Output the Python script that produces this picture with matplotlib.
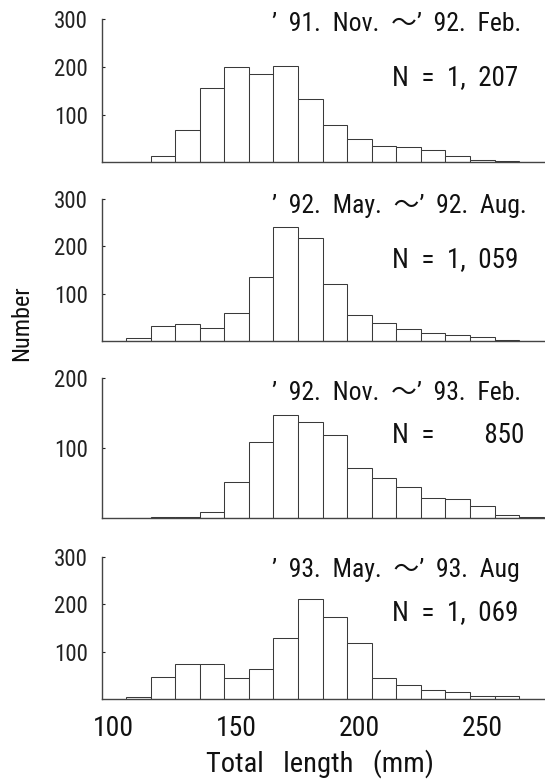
import matplotlib
matplotlib.use("Agg")
import matplotlib.pyplot as plt
from matplotlib import font_manager as fm

# ---------------- data ----------------
bin_starts = [105, 115, 125, 135, 145, 155, 165, 175, 185, 195, 205, 215, 225, 235, 245, 255, 265]
bin_width = 10
counts_91nov_92feb = [0, 14, 67, 156, 200, 185, 203, 133, 79, 48, 34, 32, 25, 13, 4, 2, 0]
counts_92may_92aug = [6, 31, 36, 28, 59, 136, 240, 218, 120, 55, 39, 26, 16, 12, 8, 3, 0]
counts_92nov_93feb = [0, 1, 2, 8, 52, 108, 147, 137, 119, 71, 57, 45, 28, 27, 17, 4, 1]
counts_93may_93aug = [5, 47, 75, 75, 44, 63, 128, 211, 174, 118, 44, 30, 18, 14, 7, 7, 1]
series = [counts_91nov_92feb, counts_92may_92aug, counts_92nov_93feb, counts_93may_93aug]
titles = ["’  91.  Nov.  ～’  92.  Feb.", "’  92.  May.  ～’  92.  Aug.",
          "’  92.  Nov.  ～’  93.  Feb.", "’  93.  May.  ～’  93.  Aug"]
n_labels = ["N  =  1,  207", "N  =  1,  059", "N  =        850", "N  =  1,  069"]
y_max = [300, 300, 200, 300]
y_ticks = [[100, 200, 300], [100, 200, 300], [100, 200], [100, 200, 300]]
x_ticks = [100, 150, 200, 250]
x_label = "Total   length   (mm)"
y_label = "Number"

# ---------------- fonts ----------------
avail = {f.name for f in fm.fontManager.ttflist}
narrow = next((n for n in ["Liberation Sans Narrow", "Roboto Condensed", "Open Sans Condensed",
                           "Noto Sans Condensed"] if n in avail), "Liberation Sans")
plt.rcParams["font.family"] = [narrow, "Noto Sans CJK JP", "DejaVu Sans"]

W, H = 545, 782
fig = plt.figure(figsize=(W / 100, H / 100), dpi=100)

def fx(x):
    return x / W

def fy(y):
    return 1 - y / H

# panel boxes in pixels (top, bottom)
boxes = [(19.5, 162.3), (199, 341), (378, 518), (557, 699)]
left_px, right_px = 102, 545
title_base = [31, 213, 400, 577]
n_base = [85, 267, 443, 620]

for i, (top, bot) in enumerate(boxes):
    ax = fig.add_axes([fx(left_px), fy(bot), (right_px - left_px) / W, (bot - top) / H])
    ax.bar(bin_starts, series[i], width=bin_width, align="edge", color="white",
           edgecolor="#3a3a3a", linewidth=0.75)
    ax.set_xlim(95.2, 275.5)
    ax.set_ylim(0, y_max[i])
    ax.set_yticks(y_ticks[i])
    ax.set_xticks(x_ticks)
    for s in ("top", "right"):
        ax.spines[s].set_visible(False)
    for s in ("left", "bottom"):
        ax.spines[s].set_color("#444444")
        ax.spines[s].set_linewidth(1.0)
    ax.tick_params(axis="y", direction="in", length=2, width=0.8, pad=10,
                   labelsize=16.5, colors="#222222")
    if i == 3:
        ax.tick_params(axis="x", length=0, pad=11.5, labelsize=20, colors="#111111")
    else:
        ax.tick_params(axis="x", length=0, labelbottom=False)
    ax.patch.set_alpha(0)
    fig.text(fx(272), fy(title_base[i]), titles[i], ha="left", va="baseline",
             fontsize=18.5, color="#111111")
    fig.text(fx(392), fy(n_base[i]), n_labels[i], ha="left", va="baseline",
             fontsize=19.5, color="#111111")

fig.text(fx(22), fy(323), y_label, rotation=90, ha="center", va="center",
         fontsize=17.5, color="#111111")
fig.text(fx(320), fy(764), x_label, ha="center", va="center",
         fontsize=20.5, color="#111111")

fig.savefig("out.png", dpi=100)
